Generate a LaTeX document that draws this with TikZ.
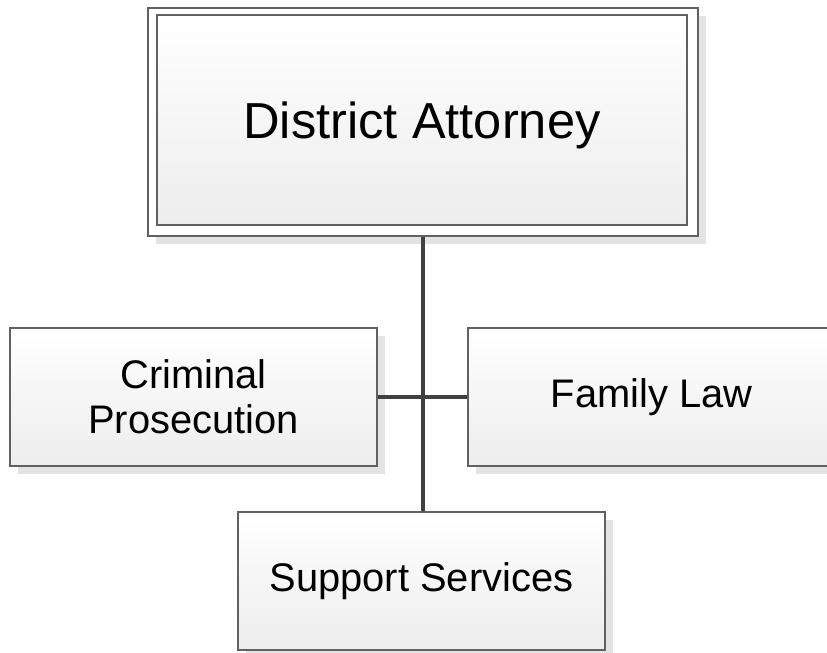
\documentclass[tikz,border=0pt]{standalone}
\usepackage{fontspec}
\setmainfont{Liberation Sans}
\usetikzlibrary{shadows}
\begin{document}
\begin{tikzpicture}[x=0.02cm, y=-0.02cm,
        orgbox/.style={draw=black!62, line width=0.7pt, top color=white, bottom color=black!7,
            drop shadow={shadow xshift=0.16cm, shadow yshift=-0.16cm, fill=black!11, opacity=1},
            minimum width=7.34cm, minimum height=2.76cm, align=center, inner sep=0pt,
            font=\fontsize{22.7}{25.5}\selectfont},
        link/.style={draw=black!75, line width=2.8pt}]
        \useasboundingbox (0, 0) rectangle (827, 652);
        \node[orgbox, minimum width=11cm, minimum height=4.56cm, top color=white, bottom color=white, line width=1pt] (da) at (423, 122) {};
        \node[draw=black!62, line width=1.1pt, top color=white, bottom color=black!7, minimum width=10.6cm, minimum height=4.2cm, inner sep=0pt, text depth=0pt, font=\fontsize{28.8}{32}\selectfont] (daIn) at (422, 120) {District Attorney};
        \node[orgbox] (cp) at (193.5, 397) {Criminal\\Prosecution};
        \node[orgbox] (fl) at (651.5, 397) {Family Law};
        \node[orgbox] (ss) at (421.5, 581) {Support Services};
        \draw[link] (da.south) -- (da.south |- ss.north);
        \draw[link] (cp.east) -- (fl.west);
    \end{tikzpicture}
\end{document}
